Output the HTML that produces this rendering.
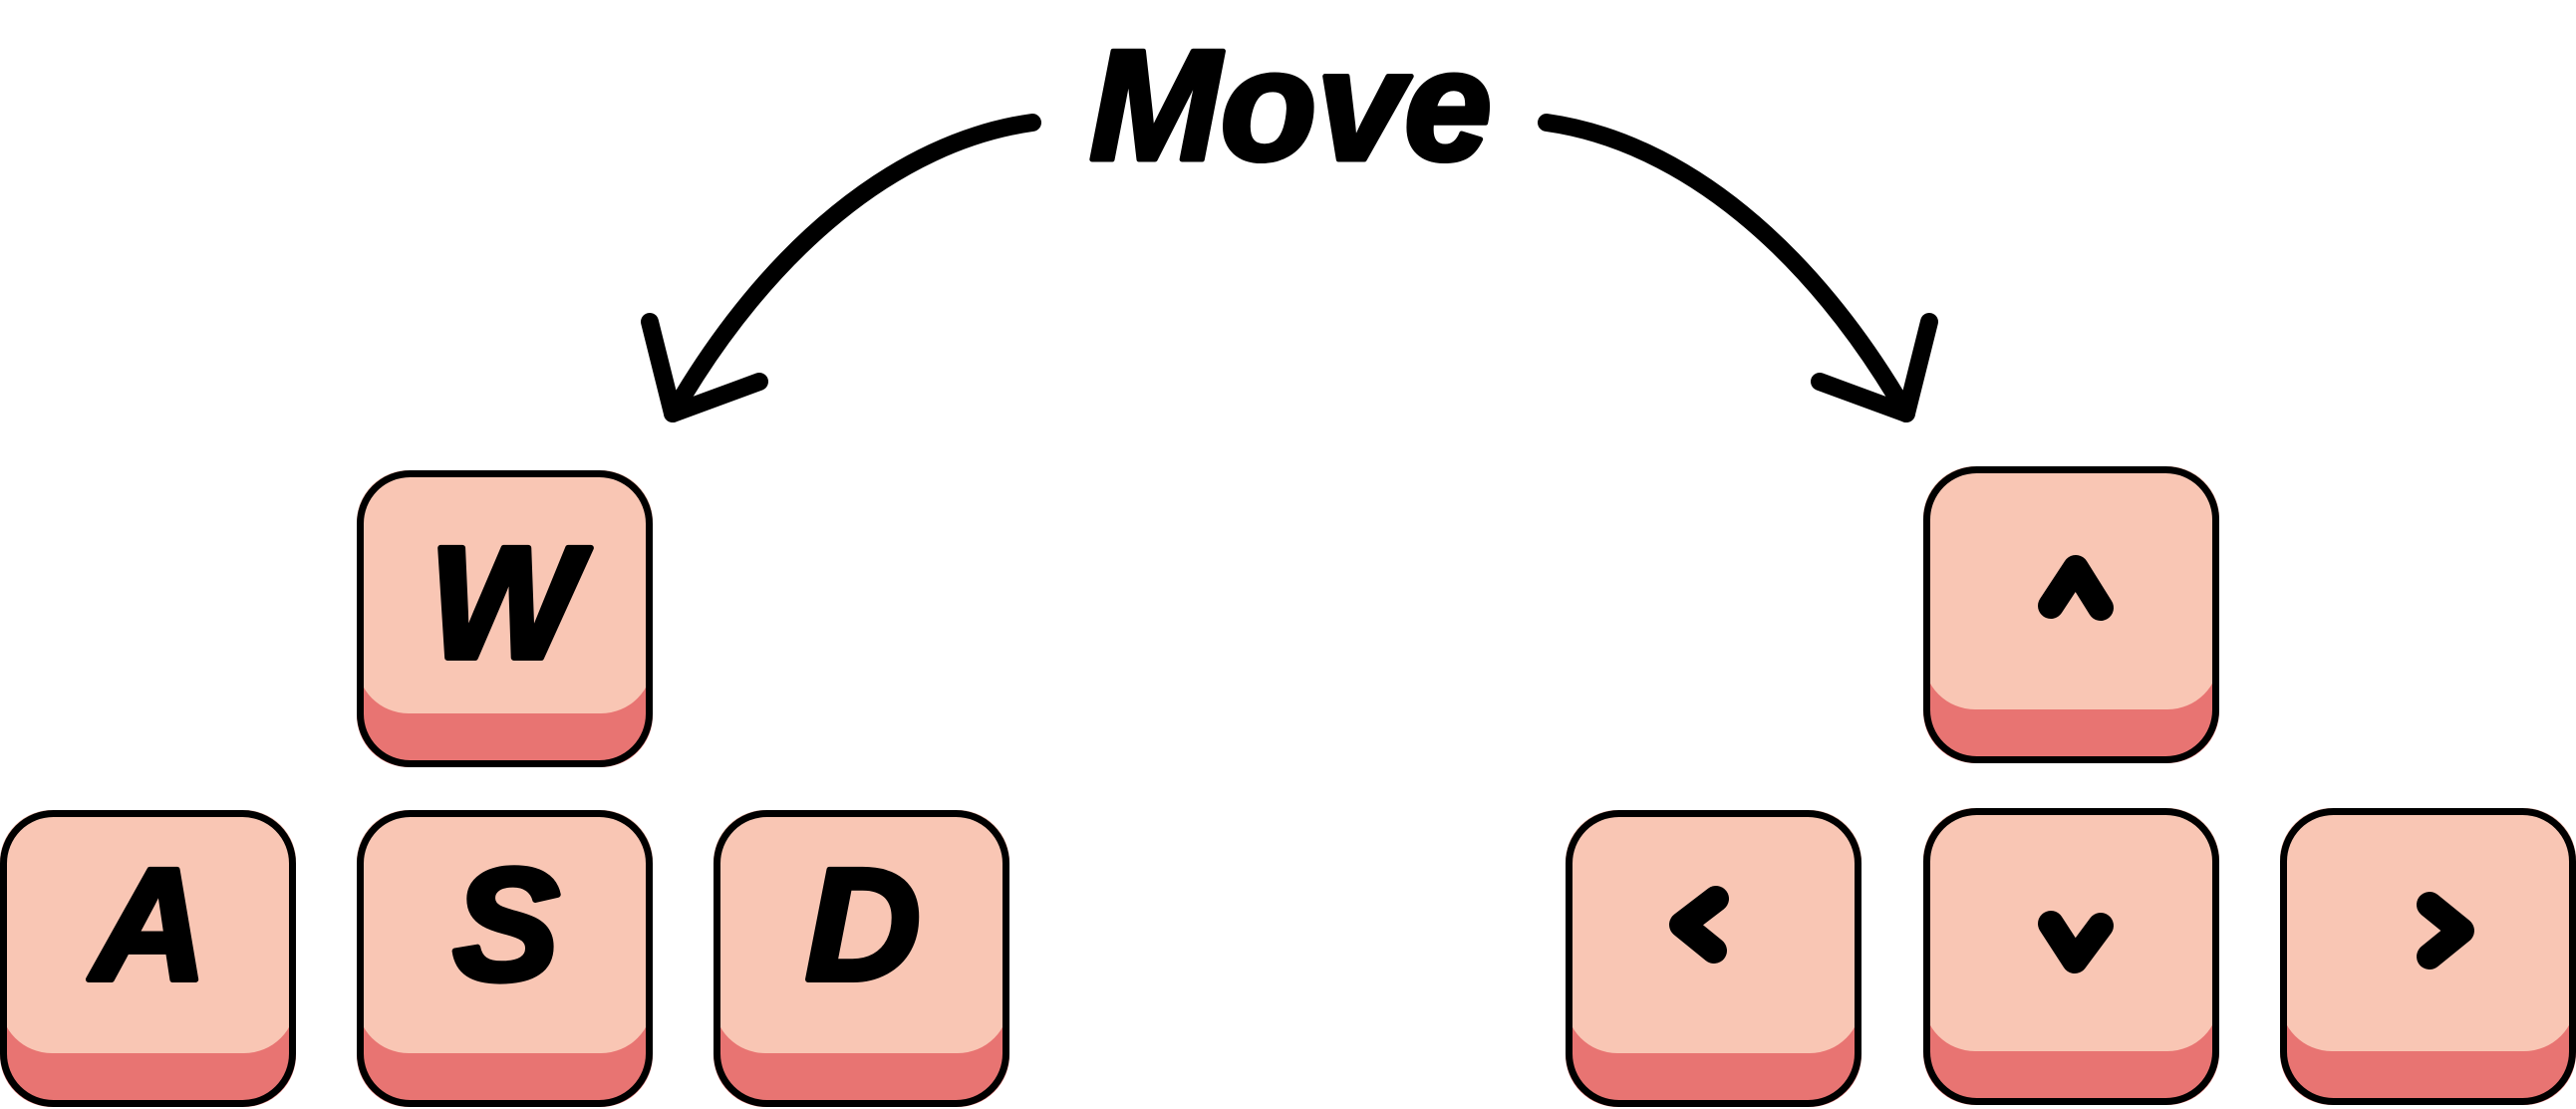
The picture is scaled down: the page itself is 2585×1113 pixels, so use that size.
<!DOCTYPE html>
<html><head><meta charset="utf-8"><style>
html,body{margin:0;padding:0;background:#fff;}
svg{display:block;}
text{font-family:"Liberation Sans",sans-serif;font-weight:bold;font-style:italic;}
</style></head><body>
<svg width="2585" height="1113" viewBox="0 0 2585 1113" xmlns="http://www.w3.org/2000/svg">
<defs>
<g id="key">
<rect x="0" y="0" width="297" height="298" rx="52" fill="#E87472"/>
<rect x="0" y="0" width="297" height="244" rx="52" fill="#F9C6B4"/>
<rect x="3.5" y="3.5" width="290" height="291" rx="50" fill="none" stroke="#000" stroke-width="7"/>
</g>
</defs>
<text x="1295" y="160" font-size="158" text-anchor="middle" fill="#000" stroke="#000" stroke-width="5" stroke-linejoin="round">Move</text>
<g fill="none" stroke="#000" stroke-width="18" stroke-linecap="round" stroke-linejoin="round">
<path d="M1036,123 C900,142 770,250 675,415"/>
<path d="M652,323 L675,415 L762,383"/>
<path d="M1552,123 C1688,142 1818,250 1913,415"/>
<path d="M1936,323 L1913,415 L1826,383"/>
</g>
<use href="#key" x="358" y="472"/>
<use href="#key" x="0" y="813"/>
<use href="#key" x="358" y="813"/>
<use href="#key" x="716" y="813"/>
<use href="#key" x="1930" y="468"/>
<use href="#key" x="1571" y="813"/>
<use href="#key" x="1930" y="811"/>
<use href="#key" x="2288" y="811"/>
<g font-size="160" text-anchor="middle" fill="#000" stroke="#000" stroke-width="6" stroke-linejoin="round">
<text x="506" y="660">W</text>
<text x="150" y="983">A</text>
<text x="508" y="983">S</text>
<text x="866" y="983">D</text>
</g>
<g fill="none" stroke="#000" stroke-width="26" stroke-linecap="round" stroke-linejoin="round">
<path d="M2058,608 L2083,570 L2108,610"/>
<path d="M2058,927 L2082,964 L2108,929"/>
<path d="M1722,902 L1688,928 L1720,954"/>
<path d="M2438,908 L2470,934 L2438,960"/>
</g>
</svg>
</body></html>
